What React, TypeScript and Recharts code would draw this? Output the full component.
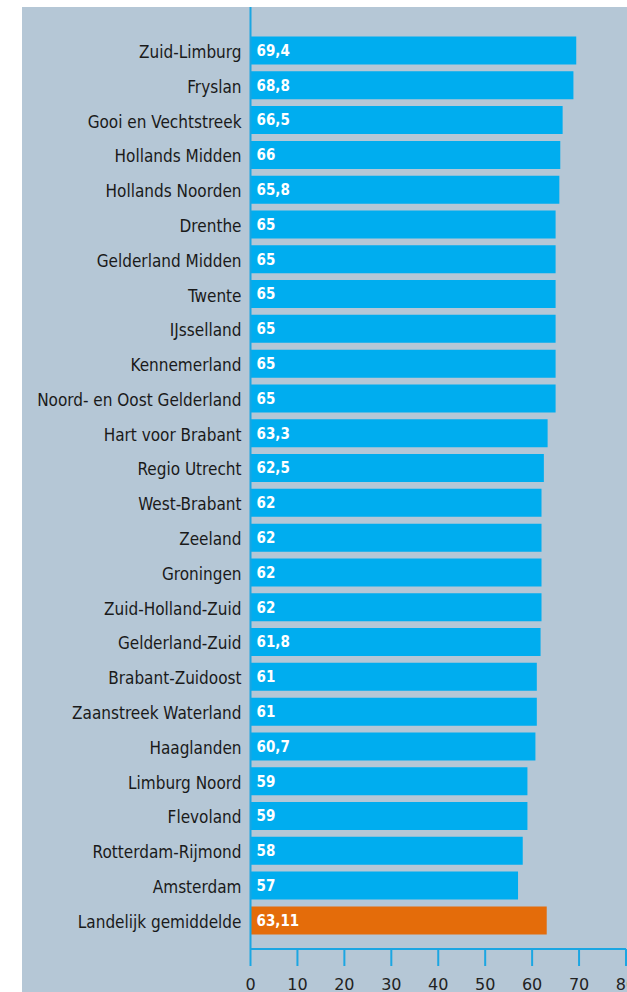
import React from 'react';
import { BarChart, Bar, XAxis, YAxis, Cell, LabelList } from 'recharts';

const REGIONS = [
  'Zuid-Limburg', 'Fryslan', 'Gooi en Vechtstreek', 'Hollands Midden', 'Hollands Noorden',
  'Drenthe', 'Gelderland Midden', 'Twente', 'IJsselland', 'Kennemerland',
  'Noord- en Oost Gelderland', 'Hart voor Brabant', 'Regio Utrecht', 'West-Brabant', 'Zeeland',
  'Groningen', 'Zuid-Holland-Zuid', 'Gelderland-Zuid', 'Brabant-Zuidoost', 'Zaanstreek Waterland',
  'Haaglanden', 'Limburg Noord', 'Flevoland', 'Rotterdam-Rijmond', 'Amsterdam',
  'Landelijk gemiddelde',
];
const VALUES = [
  69.4, 68.8, 66.5, 66, 65.8,
  65, 65, 65, 65, 65,
  65, 63.3, 62.5, 62, 62,
  62, 62, 61.8, 61, 61,
  60.7, 59, 59, 58, 57,
  63.11,
];
const X_TICKS = [0, 10, 20, 30, 40, 50, 60, 70, 80];
const AVERAGE_LABEL = 'Landelijk gemiddelde';

const BLUE = '#00adef';
const ORANGE = '#e46c0a';
const AXIS = '#1ba6e2';
const BG = '#b5c7d6';

const data = REGIONS.map((name, i) => ({ name, value: VALUES[i] }));

export default function App() {
  return (
    <div style={{ position: 'absolute', left: 0, top: 0, width: 627, height: 992, background: '#fff', overflow: 'hidden' }}>
      <div style={{ position: 'absolute', left: 22, top: 7, width: 605, height: 985, background: BG, overflow: 'hidden' }}>
        <BarChart
          width={605}
          height={985}
          data={data}
          layout="vertical"
          margin={{ top: 0, right: 1, bottom: 0, left: 0 }}
          barSize={28}
        >
          <XAxis
            type="number"
            domain={[0, 80]}
            ticks={X_TICKS}
            interval={0}
            height={43}
            axisLine={{ stroke: AXIS, strokeWidth: 2 }}
            tickLine={{ stroke: AXIS, strokeWidth: 2 }}
            tickSize={17}
            tickMargin={13}
            tick={{ fontSize: 16, fill: '#222', fontFamily: 'DejaVu Sans' }}
          />
          <YAxis
            type="category"
            dataKey="name"
            width={228.5}
            padding={{ top: 26.5, bottom: 10.8 }}
            axisLine={{ stroke: AXIS, strokeWidth: 2 }}
            tickLine={false}
            tickSize={0}
            tickMargin={9}
            interval={0}
            tick={{ fontSize: 17, fill: '#1a1a1a', fontFamily: 'DejaVu Sans Condensed, DejaVu Sans', dy: 1 }}
          />
          <Bar dataKey="value" isAnimationActive={false}>
            {data.map((d) => (
              <Cell key={d.name} fill={d.name === AVERAGE_LABEL ? ORANGE : BLUE} />
            ))}
            <LabelList
              dataKey="value"
              position="insideLeft"
              offset={6}
              formatter={(v: any) => String(v).replace('.', ',')}
              style={{ fill: '#fff', fontWeight: 'bold', fontSize: 15, fontFamily: 'DejaVu Sans Condensed, DejaVu Sans' }}
            />
          </Bar>
        </BarChart>
      </div>
    </div>
  );
}
